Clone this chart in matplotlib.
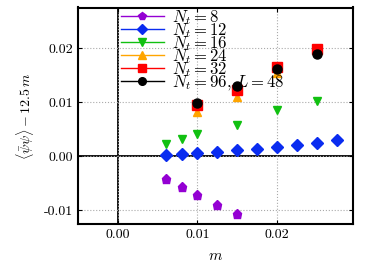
import numpy as np
import matplotlib
matplotlib.use("Agg")
import matplotlib.pyplot as plt

plt.rcParams['font.family'] = ['cmr10', 'DejaVu Serif']
plt.rcParams['mathtext.fontset'] = 'cm'
plt.rcParams['axes.unicode_minus'] = False
plt.rcParams['axes.formatter.use_mathtext'] = True

# data
m8 = [0.006, 0.008, 0.010, 0.0125, 0.015]
v8 = [-0.0043, -0.0057, -0.0072, -0.0091, -0.0108]

m12 = [0.006, 0.008, 0.010, 0.0125, 0.015, 0.0175, 0.020, 0.0225, 0.025, 0.0275]
v12 = [0.00025, 0.0004, 0.0005, 0.0008, 0.0011, 0.0013, 0.0016, 0.0020, 0.0024, 0.0030]

m16 = [0.006, 0.008, 0.010, 0.015, 0.020, 0.025]
v16 = [0.0022, 0.0031, 0.0040, 0.0058, 0.0085, 0.0101]

m24 = [0.010, 0.015, 0.020, 0.025]
v24 = [0.0082, 0.0110, 0.0153, 0.0195]

m32 = [0.010, 0.015, 0.020, 0.025]
v32 = [0.0094, 0.0123, 0.0165, 0.0198]

m96 = [0.010, 0.015, 0.020, 0.025]
v96 = [0.0099, 0.0130, 0.0161, 0.0189]

series = [
    (m8, v8, 'p', '#9400d3', r'$N_t = 8$'),
    (m12, v12, 'D', '#0a2cf0', r'$N_t = 12$'),
    (m16, v16, 'v', '#11c011', r'$N_t = 16$'),
    (m24, v24, '^', '#ffa500', r'$N_t = 24$'),
    (m32, v32, 's', '#ff0000', r'$N_t = 32$'),
    (m96, v96, 'o', '#000000', r'$N_t = 96,\, L = 48$'),
]

fig = plt.figure(figsize=(3.74, 2.66), dpi=100)
ax = fig.add_axes([78 / 374, 1 - 224 / 266, (352.7 - 78) / 374, (224 - 7.5) / 266])

ax.grid(True, color='#aaaaaa', linestyle=':', linewidth=0.8)
ax.axhline(0, color='black', lw=1.3, zorder=1)
ax.axvline(0, color='black', lw=1.3, zorder=1)

for mx, vy, mk, col, lab in series:
    ms = 6.5 if mk in ('p', 's', 'o') else 5.8
    ax.plot(mx, vy, linestyle='none', marker=mk, color=col, markersize=ms,
            zorder=3)

ax.set_xlim(-0.005, 0.0295)
ax.set_ylim(-0.0126, 0.0275)
ax.set_xticks([0.0, 0.01, 0.02])
ax.set_yticks([-0.01, 0.0, 0.01, 0.02])
ax.set_xticklabels(['0.00', '0.01', '0.02'])
ax.set_yticklabels(['-0.01', '0.00', '0.01', '0.02'])
ax.tick_params(direction='in', top=True, right=True, labelsize=10, length=3)
for s in ax.spines.values():
    s.set_linewidth(1.5)

ax.set_xlabel(r'$m$', fontsize=11, labelpad=6)
ax.set_ylabel(r'$\langle\bar{\psi}\psi\rangle - 12.5\,m$', fontsize=10, labelpad=6)

handles = []
for mx, vy, mk, col, lab in series:
    h, = ax.plot([], [], marker=mk, color=col, markersize=5.5, lw=1.0)
    handles.append(h)
leg = ax.legend(handles, [s[4] for s in series], loc='upper left',
                bbox_to_anchor=(0.125, 1.035), frameon=False, fontsize=12,
                handlelength=2.6, labelspacing=-0.35, handletextpad=0.5,
                borderaxespad=0.1, numpoints=1)

fig.savefig('out.png', dpi=100)
